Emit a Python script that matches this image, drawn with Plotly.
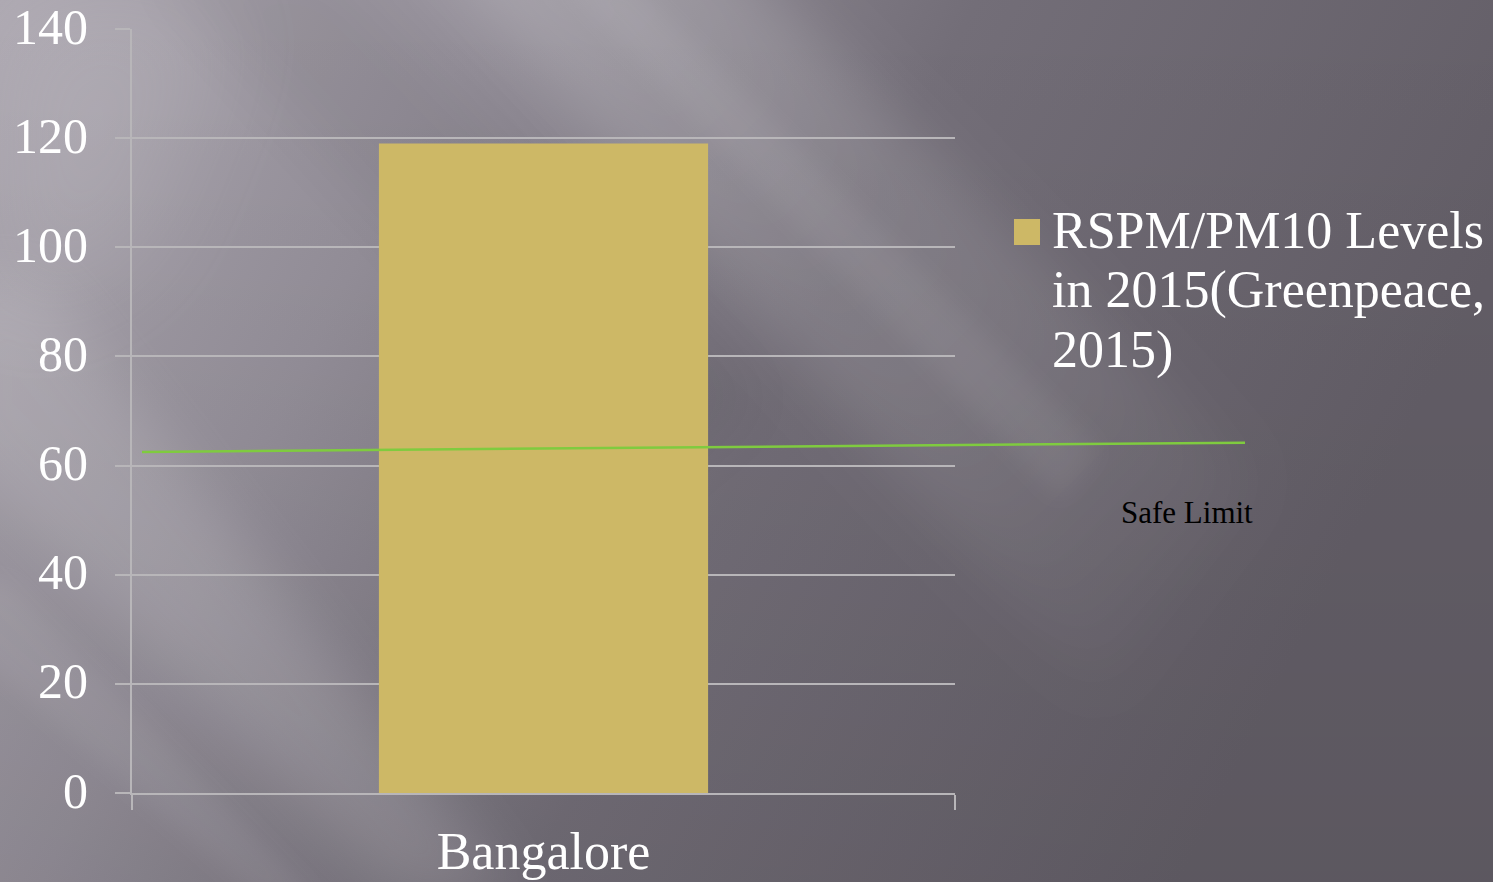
import base64
import plotly.graph_objects as go

# --- data -------------------------------------------------------------
cities = ["Bangalore"]
pm10_levels = [119]
series_lines = ["RSPM/PM10 Levels", "in 2015(Greenpeace,", "2015)"]
y_ticks = [0, 20, 40, 60, 80, 100, 120, 140]
safe_limit_ends = [62.5, 64.2]     # safe-limit guide line, left and right end
safe_limit_label = "Safe Limit"

# --- page geometry ----------------------------------------------------
W, H = 1493, 882
ML, MR, MT, MB = 132, 538, 29, 89
PW, PH = W - ML - MR, H - MT - MB

FONT = "Liberation Serif"
GRID = "#b8b6b9"
BAR = "#cdb866"
GREEN = "#7fcb3f"


def px_x(px):
    return (px - ML) / PW


def px_y(py):
    return (MT + PH - py) / PH


# --- slide background: grey gradient with soft diagonal light streaks --
svg = f"""<svg xmlns='http://www.w3.org/2000/svg' width='{W}' height='{H}' viewBox='0 0 {W} {H}'>
<defs>
<linearGradient id='g' x1='0' y1='0' x2='1' y2='0.3'>
<stop offset='0' stop-color='#aca7b0'/>
<stop offset='0.3' stop-color='#948f99'/>
<stop offset='0.6' stop-color='#736e78'/>
<stop offset='1' stop-color='#635e67'/>
</linearGradient>
<linearGradient id='v' x1='0' y1='0' x2='0' y2='1'>
<stop offset='0' stop-color='#000' stop-opacity='0'/>
<stop offset='1' stop-color='#000' stop-opacity='0.07'/>
</linearGradient>
<linearGradient id='fade' gradientUnits='userSpaceOnUse' x1='500' y1='0' x2='1200' y2='700'>
<stop offset='0' stop-color='#fff' stop-opacity='0.18'/>
<stop offset='0.6' stop-color='#fff' stop-opacity='0.10'/>
<stop offset='1' stop-color='#fff' stop-opacity='0'/>
</linearGradient>
<filter id='b1' x='-50%' y='-50%' width='200%' height='200%'><feGaussianBlur stdDeviation='30'/></filter>
<filter id='b2' x='-50%' y='-50%' width='200%' height='200%'><feGaussianBlur stdDeviation='12'/></filter>
<filter id='b3' x='-50%' y='-50%' width='200%' height='200%'><feGaussianBlur stdDeviation='55'/></filter>
</defs>
<rect width='{W}' height='{H}' fill='url(#g)'/>
<rect width='{W}' height='{H}' fill='url(#v)'/>
<polygon points='0,0 240,0 140,260 0,330' fill='#ffffff' opacity='0.10' filter='url(#b3)'/>
<polygon points='420,-60 720,-60 1260,480 1100,700' fill='url(#fade)' filter='url(#b1)'/>
<polygon points='560,-20 630,-20 1100,450 1060,500' fill='#ffffff' opacity='0.06' filter='url(#b2)'/>
<polygon points='-60,280 40,280 520,900 400,900 -60,440' fill='#ffffff' opacity='0.13' filter='url(#b1)'/>
<polygon points='-40,580 10,580 320,900 260,900 -40,640' fill='#ffffff' opacity='0.06' filter='url(#b2)'/>
<polygon points='150,-40 330,-40 760,400 640,500' fill='#000000' opacity='0.05' filter='url(#b1)'/>
</svg>"""
bg_src = "data:image/svg+xml;base64," + base64.b64encode(svg.encode()).decode()

fig = go.Figure()
fig.add_trace(go.Bar(
    x=cities, y=pm10_levels, width=0.4, name=" ".join(series_lines),
    marker=dict(color=BAR, line=dict(width=0)), showlegend=False,
))

# full-page background image, expressed in paper units
fig.add_layout_image(dict(
    source=bg_src, xref="paper", yref="paper",
    x=-ML / PW, y=1 + MT / PH, sizex=W / PW, sizey=H / PH,
    xanchor="left", yanchor="top", sizing="stretch", layer="below",
))

# safe-limit guide line across the plot and into the right margin
fig.add_shape(type="line", xref="paper", yref="y",
              x0=px_x(142), x1=px_x(1245),
              y0=safe_limit_ends[0], y1=safe_limit_ends[1],
              line=dict(color=GREEN, width=2.5), layer="above")
fig.add_annotation(text=safe_limit_label, xref="paper", yref="paper",
                   x=px_x(1187), y=px_y(512),
                   xanchor="center", yanchor="middle", showarrow=False,
                   font=dict(family=FONT, size=31, color="#000000"))

# legend: colour swatch and series name, one annotation per line
fig.add_shape(type="rect", xref="paper", yref="paper",
              x0=px_x(1014), x1=px_x(1040), y0=px_y(219), y1=px_y(245),
              fillcolor=BAR, line=dict(width=0))
for i, line in enumerate(series_lines):
    fig.add_annotation(text=line, xref="paper", yref="paper",
                       x=px_x(1050), y=px_y(230 + 60 * i),
                       xanchor="left", yanchor="middle", align="left",
                       showarrow=False,
                       font=dict(family=FONT, size=52, color="#ffffff"))

fig.update_layout(
    width=W, height=H,
    margin=dict(l=ML, r=MR, t=MT, b=MB, pad=0, autoexpand=False),
    paper_bgcolor="#7a7580", plot_bgcolor="rgba(0,0,0,0)",
    showlegend=False,
    font=dict(family=FONT, color="#ffffff"),
)
fig.update_yaxes(
    range=[0, 140], tickvals=y_ticks, showgrid=True, gridcolor=GRID, gridwidth=2,
    zeroline=False, showline=True, linecolor=GRID, linewidth=2, automargin=False,
    ticks="outside", ticklen=15, tickwidth=2, tickcolor=GRID,
    ticklabelstandoff=17, ticklabelshift=-3, ticklabeloverflow="allow",
    tickfont=dict(family=FONT, size=50, color="#ffffff"),
)
fig.update_xaxes(
    type="category", range=[-0.5, 0.5], showgrid=False, automargin=False,
    showline=True, linecolor=GRID, linewidth=2,
    ticks="outside", tickson="boundaries", ticklen=15, tickwidth=2, tickcolor=GRID,
    ticklabelstandoff=12, tickfont=dict(family=FONT, size=52, color="#ffffff"),
)

fig.write_html("out.html")
